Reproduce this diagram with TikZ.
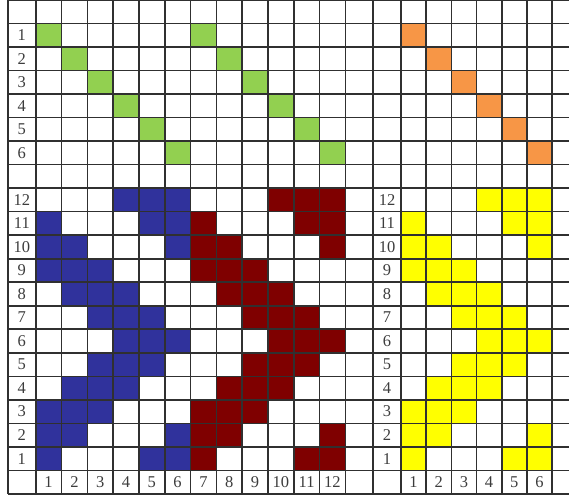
\documentclass[tikz,border=0pt]{standalone}
\usepackage{fontspec}
\setmainfont{Liberation Serif}
\usetikzlibrary{positioning}
\definecolor{GridGray}{HTML}{303030}
\definecolor{LeafGreen}{HTML}{92D050}
\definecolor{SoftOrange}{HTML}{F79646}
\definecolor{InkBlue}{HTML}{30329C}
\definecolor{DarkRed}{HTML}{7F0000}
\definecolor{BrightYellow}{HTML}{FFFF00}
\definecolor{LabelGray}{HTML}{3C3C3C}
\tikzset{
  gridline/.style={draw=GridGray, line width=1.6pt},
  lbl/.style={font=\fontsize{16.5}{16.5}\selectfont, text=LabelGray, inner sep=0pt}
}

\begin{document}
\begin{tikzpicture}[x=1pt, y=23.52pt]
\useasboundingbox (0,-0.2126) rectangle (569,21);
% left block: cols 1..12
\begin{scope}[shift={(35.7,0)}, x=25.8pt]
  \foreach \i in {1,...,6} {
    \fill[LeafGreen] (\i-1,20-\i) rectangle ++(1,1);
    \fill[LeafGreen] (\i+5,20-\i) rectangle ++(1,1);
  }
  \foreach \r/\cols in {12/{4,5,6}, 11/{1,5,6}, 10/{1,2,6}, 9/{1,2,3}, 8/{2,3,4}, 7/{3,4,5},
                        6/{4,5,6}, 5/{3,4,5}, 4/{2,3,4}, 3/{1,2,3}, 2/{1,2,6}, 1/{1,5,6}} {
    \foreach \c in \cols {
      \fill[InkBlue] (\c-1,\r) rectangle ++(1,1);
      \fill[DarkRed] (\c+5,\r) rectangle ++(1,1);
    }
  }
  \foreach \c in {1,...,12}
    \node[lbl] (colL\c) at (\c-0.5,0.5) {\c};
\end{scope}
% right block: cols 1..6
\begin{scope}[shift={(401,0)}, x=25.17pt]
  \foreach \i in {1,...,6}
    \fill[SoftOrange] (\i-1,20-\i) rectangle ++(1,1);
  \foreach \r/\cols in {12/{4,5,6}, 11/{1,5,6}, 10/{1,2,6}, 9/{1,2,3}, 8/{2,3,4}, 7/{3,4,5},
                        6/{4,5,6}, 5/{3,4,5}, 4/{2,3,4}, 3/{1,2,3}, 2/{1,2,6}, 1/{1,5,6}} {
    \foreach \c in \cols
      \fill[BrightYellow] (\c-1,\r) rectangle ++(1,1);
  }
  \foreach \c in {1,...,6}
    \node[lbl] (colR\c) at (\c-0.5,0.5) {\c};
\end{scope}

% grid lines
\foreach \k in {0,...,21}
  \draw[gridline] (8,\k) -- (578,\k);
\foreach \xx in {8,35.7,61.5,87.3,113.1,138.9,164.7,190.5,216.3,242.1,267.9,293.7,319.5,345.3,
                 373,401,426.2,451.3,476.5,501.7,526.8,552}
  \draw[gridline] (\xx,0) -- (\xx,21);

% row labels
\foreach \i in {1,...,6}
  \node[lbl] (top\i) at (21.85,20.5-\i) {\i};
\foreach \r in {1,...,12} {
  \node[lbl] (left\r) at (21.85,\r+0.5) {\r};
  \node[lbl] (right\r) at (387,\r+0.5) {\r};
}
\end{tikzpicture}
\end{document}
